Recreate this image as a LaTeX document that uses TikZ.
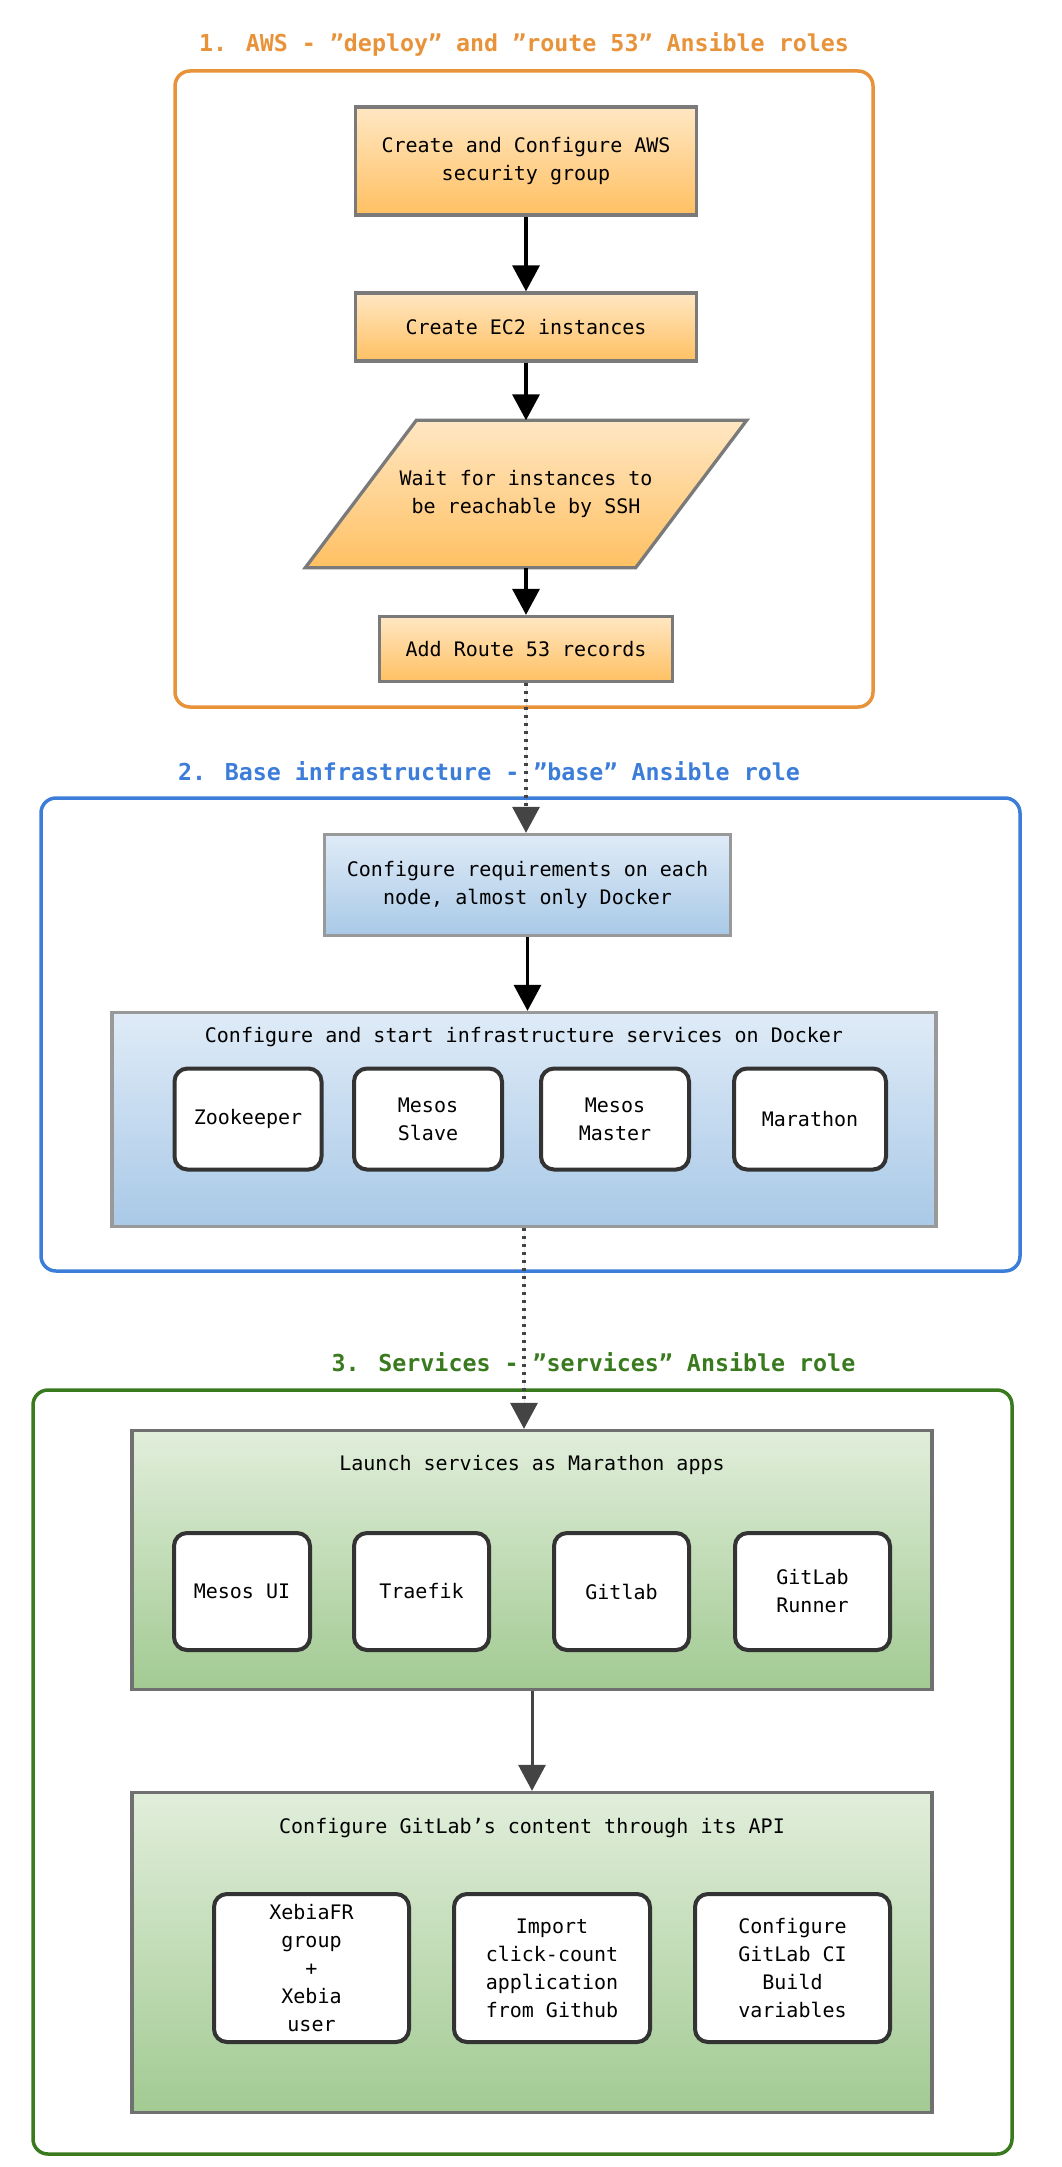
\documentclass[tikz,border=0pt]{standalone}
\usepackage{fontspec}
\setmainfont{DejaVu Sans Mono}
\usetikzlibrary{arrows.meta}
\definecolor{awsline}{HTML}{E8933A}
\definecolor{baseline}{HTML}{3C7DD9}
\definecolor{svcline}{HTML}{3A7A1F}
\definecolor{awstop}{HTML}{FFE7C3}
\definecolor{awsbot}{HTML}{FFC062}
\definecolor{basetop}{HTML}{DFEBF7}
\definecolor{basebot}{HTML}{A9C9E7}
\definecolor{svctop}{HTML}{E1EEDB}
\definecolor{svcbot}{HTML}{A2CA92}
\definecolor{darkline}{HTML}{444444}
\tikzset{
  roleframe/.style={rounded corners=15pt, line width=3.5pt},
  roletitle/.style={font=\fontsize{23.3}{28}\selectfont\bfseries},
  awsbox/.style={draw=black!52, line width=3.3pt, top color=awstop, bottom color=awsbot, align=center, inner sep=0pt},
  basebox/.style={draw=black!40, line width=3.3pt, top color=basetop, bottom color=basebot, align=center, inner sep=0pt},
  svcbox/.style={draw=black!56, line width=3.3pt, top color=svctop, bottom color=svcbot, align=center, inner sep=0pt},
  svcitem/.style={draw=black!80, fill=white, line width=4pt, rounded corners=13pt, align=center, inner sep=0pt},
  flow/.style={-{Triangle[width=27pt,length=26pt]}, line width=3.5pt},
  hop/.style={-{Triangle[width=27pt,length=26pt]}, line width=3.3pt, draw=darkline, fill=darkline, dash pattern=on 3.3pt off 4.7pt},
  every node/.style={font=\fontsize{20}{28}\selectfont}
}
\begin{document}
\begin{tikzpicture}[x=1pt, y=-1pt]
	\useasboundingbox (0,0) rectangle (1062,2167);
	% 1. AWS
	\node[roletitle, text=awsline] (title1) at (524,44) {1. AWS - "deploy" and "route 53" Ansible roles};
	\draw[roleframe, draw=awsline] (175,71) rectangle (873,707);
	\node[awsbox, minimum width=341, minimum height=108] (secgroup) at (526,161) {Create and Configure AWS\\security group};
	\node[awsbox, minimum width=341, minimum height=68] (ec2) at (526,327) {Create EC2 instances};
	\node[minimum width=330, minimum height=147, inner sep=0pt] (wait) at (526,494) {};
	\draw[draw=black!52, line width=3.3pt, top color=awstop, bottom color=awsbot]
		([xshift=-55.5pt]wait.south west) -- ([xshift=-55.5pt]wait.south east)
		-- ([xshift=55.5pt]wait.north east) -- ([xshift=55.5pt]wait.north west) -- cycle;
	\node[align=center] (waittext) at (wait) {Wait for instances to\\be reachable by SSH};
	\node[awsbox, minimum width=293, minimum height=65] (route) at (526,649) {Add Route 53 records};
	\draw[flow] (secgroup.south) -- (ec2.north);
	\draw[flow] (ec2.south) -- (wait.north);
	\draw[flow] (wait.south) -- (route.north);
	% 2. Base infrastructure
	\draw[roleframe, draw=baseline] (41,798) rectangle (1020,1271);
	\node[roletitle, text=baseline] (title2) at (489,771) {2. Base infrastructure - "base" Ansible role};
	\node[basebox, minimum width=406, minimum height=101] (req) at (527.5,885) {Configure requirements on each\\node, almost only Docker};
	\node[basebox, minimum width=824, minimum height=214] (infra) at (524,1119.5) {};
	\node (infratext) at (524,1037) {Configure and start infrastructure services on Docker};
	\node[svcitem, minimum width=147, minimum height=101] (zk) at (248,1119) {Zookeeper};
	\node[svcitem, minimum width=148, minimum height=101] (slave) at (428,1119) {Mesos\\Slave};
	\node[svcitem, minimum width=148, minimum height=101] (master) at (615,1119) {Mesos\\Master};
	\node[svcitem, minimum width=152, minimum height=101] (marathon) at (810,1119) {Marathon};
	\draw[hop] (route.south) -- (route.south |- req.north);
	\draw[flow] (req.south) -- (req.south |- infra.north);
	% 3. Services
	\draw[roleframe, draw=svcline] (33,1390) rectangle (1012,2154);
	\node[roletitle, text=svcline] (title3) at (593.5,1362) {3. Services - "services" Ansible role};
	\node[svcbox, minimum width=800, minimum height=259] (launch) at (532,1560) {};
	\node (launchtext) at (532,1465) {Launch services as Marathon apps};
	\node[svcitem, minimum width=136, minimum height=117] (mesosui) at (242,1591.5) {Mesos UI};
	\node[svcitem, minimum width=135, minimum height=117] (traefik) at (421.5,1591.5) {Traefik};
	\node[svcitem, minimum width=135, minimum height=117] (gitlab) at (621.5,1591.5) {Gitlab};
	\node[svcitem, minimum width=155, minimum height=117] (runner) at (812.5,1591.5) {GitLab\\Runner};
	\node[svcbox, minimum width=800, minimum height=320] (gitlabcfg) at (532,1952.5) {};
	\node (gitlabcfgtext) at (532,1828) {Configure GitLab's content through its API};
	\node[svcitem, minimum width=195, minimum height=148] (xebia) at (311.5,1968) {XebiaFR\\group\\+\\Xebia\\user};
	\node[svcitem, minimum width=196, minimum height=148] (import) at (552,1968) {Import\\click-count\\application\\from Github};
	\node[svcitem, minimum width=195, minimum height=148] (civars) at (792.5,1968) {Configure\\GitLab CI\\Build\\variables};
	\draw[hop] (infra.south) -- (infra.south |- launch.north);
	\draw[-{Triangle[width=27pt,length=26pt]}, line width=3pt, draw=darkline, fill=darkline] (launch.south) -- (gitlabcfg.north);
\end{tikzpicture}
\end{document}
